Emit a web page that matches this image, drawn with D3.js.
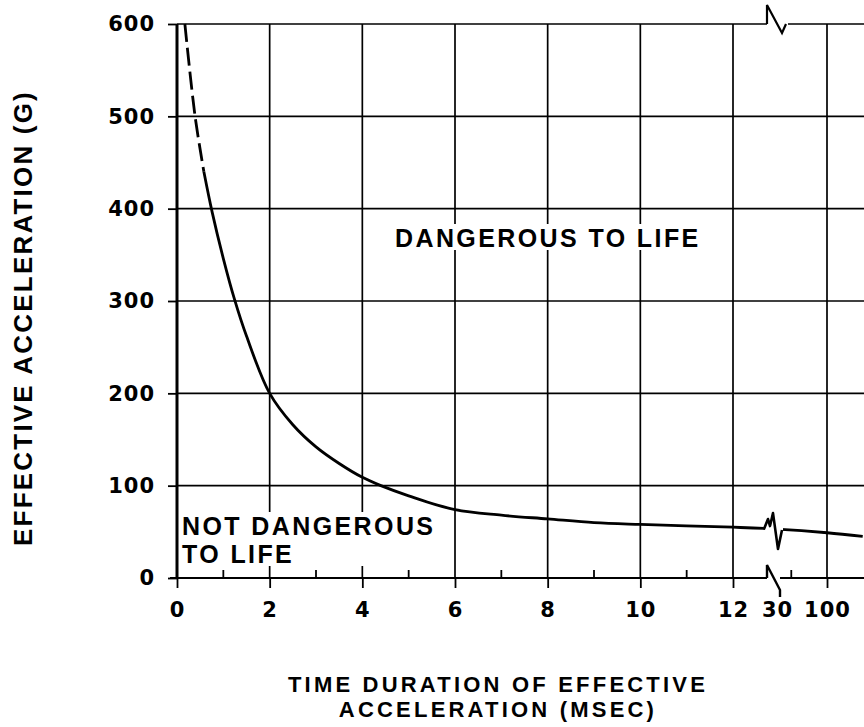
<!DOCTYPE html>
<html>
<head>
<meta charset="utf-8">
<script src="https://cdn.jsdelivr.net/npm/d3@7"></script>
<style>
  body { margin: 0; background: #fff; }
</style>
</head>
<body>
<div id="chart"></div>
<script>
// axis ticks
const yTicks = [0, 100, 200, 300, 400, 500, 600];
const xTicks = [0, 2, 4, 6, 8, 10, 12, 30, 100];
const xGridVals = [2, 4, 6, 8, 10, 12, 100];
const xMinorTicks = [1, 3, 5, 7, 9, 11, 50];

// tolerance curve: duration (msec) vs effective acceleration (G)
const durations = [0.17, 0.39, 0.58, 0.76, 1.0, 1.24, 1.5, 2.0, 2.5, 3.0, 3.5, 4.0, 4.4, 5.0, 6.0, 7.0, 8.0, 9.0, 10, 12, 30, 100, 150];
const accels    = [600,  500,  440,  396,  346, 302,  262, 200, 166, 142, 124, 109, 100, 89,  74,  68,  64,  60,  58, 55, 53, 49,  45];
const dashedAbove = 440;   // curve is dashed above this value
const breakAt = 30;        // axis break

const width = 864, height = 727;
const font = '"Liberation Sans", Arial, sans-serif';
const tickFont = '"DejaVu Sans", sans-serif';

// piecewise x scale: linear 0-12, then compressed 12 -> 30 -> 100
const x = d3.scaleLinear().domain([0, 12, 30, 100]).range([177, 733, 777, 827]);
const y = d3.scaleLinear().domain([0, 600]).range([578, 24]);

const svg = d3.select("#chart")
  .append("svg")
    .attr("width", width)
    .attr("height", height)
    .style("background", "#fff");

const y0 = y(0), yTop = y(600), x0 = x(0), bx = x(breakAt);

// grid
const grid = svg.append("g").attr("stroke", "#000").attr("stroke-width", 1.7).attr("fill", "none");
grid.selectAll(".hgrid")
  .data(yTicks.filter(d => d > 0 && d < 600))
  .enter().append("line")
    .attr("x1", x0).attr("x2", width)
    .attr("y1", d => y(d)).attr("y2", d => y(d));
grid.selectAll(".vgrid")
  .data(xGridVals)
  .enter().append("line")
    .attr("x1", d => x(d)).attr("x2", d => x(d))
    .attr("y1", yTop).attr("y2", y0);

// top border with break
grid.append("line").attr("x1", x0).attr("x2", bx - 10).attr("y1", yTop).attr("y2", yTop);
grid.append("line").attr("x1", bx + 11).attr("x2", width).attr("y1", yTop).attr("y2", yTop);
grid.append("path").attr("stroke-width", 2.2)
  .attr("d", `M${bx - 10},${yTop}V${yTop - 19}L${bx + 5},${yTop + 9}L${bx + 9},${yTop}`);

// region labels with white background
function label(lines, xPos, yPos, lh) {
  const g = svg.append("g");
  const t = g.append("text")
    .attr("font-family", font).attr("font-weight", "bold").attr("font-size", 25)
    .attr("letter-spacing", 2.4)
    .attr("fill", "#000");
  lines.forEach((s, i) => {
    t.append("tspan").attr("x", xPos).attr("y", yPos + i * lh).text(s);
  });
  const bb = t.node().getBBox();
  g.insert("rect", "text")
    .attr("x", bb.x - 3).attr("y", bb.y)
    .attr("width", bb.width + 3).attr("height", bb.height - 2)
    .attr("fill", "#fff");
}
label(["DANGEROUS TO LIFE"], 395, 247, 0);
label(["NOT DANGEROUS", "TO LIFE"], 182, 535, 28);

// curve
const pts = durations.map((d, i) => [d, accels[i]]);
const line = d3.line().x(d => x(d[0])).y(d => y(d[1])).curve(d3.curveCatmullRom.alpha(0.5));
svg.append("path")
  .datum(pts.filter(d => d[1] >= dashedAbove))
  .attr("d", line)
  .attr("fill", "none").attr("stroke", "#000").attr("stroke-width", 2.8)
  .attr("stroke-dasharray", "18,6");
svg.append("path")
  .datum(pts.filter(d => d[1] <= dashedAbove))
  .attr("d", line)
  .attr("fill", "none").attr("stroke", "#000").attr("stroke-width", 2.8);

// break on the curve
const cy = y(accels[durations.indexOf(breakAt)]);
svg.append("rect")
  .attr("x", bx - 12).attr("y", cy - 22).attr("width", 18).attr("height", 46)
  .attr("fill", "#fff");
svg.append("path")
  .attr("d", `M${bx - 13},${cy}L${bx - 9},${cy - 10}L${bx - 7},${cy - 3}L${bx - 4},${cy - 16}L${bx + 1},${cy + 20}L${bx + 5},${cy + 1}`)
  .attr("fill", "none").attr("stroke", "#000").attr("stroke-width", 2.6).attr("stroke-linejoin", "round");

// axes
const xAxis = svg.append("g")
  .attr("transform", `translate(0,${y0})`)
  .call(d3.axisBottom(x).tickValues(xTicks).tickFormat(d3.format("d")).tickSize(10).tickPadding(14));
xAxis.select(".domain").remove();
xAxis.selectAll(".tick").filter(d => d === breakAt).select("line").remove();

const yAxis = svg.append("g")
  .attr("transform", `translate(${x0},0)`)
  .call(d3.axisLeft(y).tickValues(yTicks).tickSize(9).tickPadding(13));
yAxis.select(".domain").remove();

[xAxis, yAxis].forEach(a => {
  a.selectAll("line").attr("stroke", "#000").attr("stroke-width", 1.8);
  a.selectAll("text")
    .attr("font-family", tickFont).attr("font-weight", "bold").attr("font-size", 21)
    .attr("letter-spacing", 1)
    .attr("fill", "#000");
});

// minor ticks
svg.selectAll(".minor")
  .data(xMinorTicks)
  .enter().append("line")
    .attr("x1", d => x(d)).attr("x2", d => x(d))
    .attr("y1", y0).attr("y2", y0 - 8)
    .attr("stroke", "#000").attr("stroke-width", 1.8);

// axis lines
svg.append("line").attr("x1", x0).attr("x2", x0).attr("y1", yTop).attr("y2", y0)
  .attr("stroke", "#000").attr("stroke-width", 3);
svg.append("line").attr("x1", x0 - 7).attr("x2", bx - 10).attr("y1", y0).attr("y2", y0)
  .attr("stroke", "#000").attr("stroke-width", 2.2);
svg.append("line").attr("x1", bx + 3).attr("x2", width).attr("y1", y0).attr("y2", y0)
  .attr("stroke", "#000").attr("stroke-width", 2.2);
svg.append("path")
  .attr("d", `M${bx - 10},${y0}V${y0 - 13}L${bx + 3},${y0 + 12}V${y0 + 19}`)
  .attr("fill", "none").attr("stroke", "#000").attr("stroke-width", 2.4);

// titles
svg.append("text")
  .attr("transform", `translate(32,${(yTop + y0) / 2 + 17}) rotate(-90)`)
  .attr("text-anchor", "middle")
  .attr("font-family", font).attr("font-weight", "bold").attr("font-size", 26)
  .attr("letter-spacing", 2.2)
  .text("EFFECTIVE ACCELERATION (G)");

const xTitle = ["TIME DURATION OF EFFECTIVE", "ACCELERATION (MSEC)"];
svg.selectAll(".xtitle")
  .data(xTitle)
  .enter().append("text")
    .attr("x", 498).attr("y", (d, i) => 692 + i * 25)
    .attr("text-anchor", "middle")
    .attr("font-family", font).attr("font-weight", "bold").attr("font-size", 22)
    .attr("letter-spacing", 3.2)
    .text(d => d);
</script>
</body>
</html>
